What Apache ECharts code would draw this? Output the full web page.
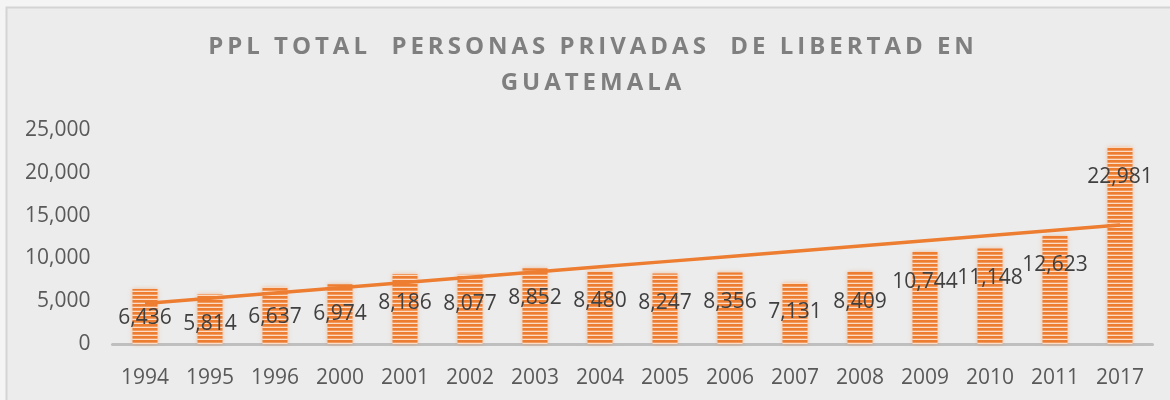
<!DOCTYPE html>
<html>
<head>
<meta charset="utf-8">
<script src="https://cdn.jsdelivr.net/npm/echarts@6/dist/echarts.min.js"></script>
<style>
	html, body { margin: 0; padding: 0; background: #f4f4f4; }
	#chart { width: 1170px; height: 400px; }
</style>
</head>
<body>
<div id="chart"></div>
<script>
var years = ["1994", "1995", "1996", "2000", "2001", "2002", "2003", "2004", "2005", "2006", "2007", "2008", "2009", "2010", "2011", "2017"];
var ppl = [6436, 5814, 6637, 6974, 8186, 8077, 8852, 8480, 8247, 8356, 7131, 8409, 10744, 11148, 12623, 22981];
var yTicks = [0, 5000, 10000, 15000, 20000, 25000];
var titleLines = ["PPL TOTAL  PERSONAS PRIVADAS  DE LIBERTAD EN", "GUATEMALA"];

// linear trend (least squares over category index), like Excel's trendline
function trend(v) {
	var n = v.length, sx = 0, sy = 0, sxx = 0, sxy = 0;
	for (var i = 0; i < n; i++) { sx += i; sy += v[i]; sxx += i * i; sxy += i * v[i]; }
	var b = (n * sxy - sx * sy) / (n * sxx - sx * sx),
		a = (sy - b * sx) / n;
	return v.map(function(_, i) { return a + b * i; });
}

// spaced-out title letters (thin spaces)
function spaced(s) {
	return s.split("").join("\u2009");
}

function fmt(v) {
	return v.toString().replace(/\B(?=(\d{3})+(?!\d))/g, ",");
}

// striped fill for the bars
var cv = document.createElement("canvas");
cv.width = 4; cv.height = 4;
var cx = cv.getContext("2d");
cx.fillStyle = "#ed7d31"; cx.fillRect(0, 0, 4, 2);
cx.fillStyle = "#f29a5e"; cx.fillRect(0, 2, 4, 1);
cx.fillStyle = "#fcdcc4"; cx.fillRect(0, 3, 4, 1);

var chart = echarts.init(document.getElementById("chart"));
chart.setOption({
	backgroundColor: "#f4f4f4",
	animation: false,
	graphic: [{
		type: "rect",
		z: -10,
		shape: { x: 6.5, y: 7.5, width: 1200, height: 500 },
		style: { fill: "#ececec", stroke: "#d4d4d4", lineWidth: 2 }
	}],
	title: {
		text: spaced(titleLines[0]) + "\n" + spaced(titleLines[1]),
		left: 586,
		top: 24,
		textAlign: "center",
		textStyle: {
			fontFamily: "Open Sans",
			fontWeight: "bold",
			fontSize: 24,
			color: "#7f7f7f",
			lineHeight: 36
		}
	},
	grid: { left: 112.5, right: 17.5, top: 130, bottom: 56 },
	xAxis: {
		type: "category",
		data: years,
		axisLine: { lineStyle: { color: "#bfbfbf", width: 3 } },
		axisTick: { show: false },
		axisLabel: { fontFamily: "Open Sans", fontSize: 21, color: "#595959", margin: 24 }
	},
	yAxis: {
		type: "value",
		min: yTicks[0],
		max: yTicks[yTicks.length - 1],
		interval: yTicks[1] - yTicks[0],
		splitLine: { show: false },
		axisLine: { show: false },
		axisTick: { show: false },
		axisLabel: {
			fontFamily: "Open Sans", fontSize: 21, color: "#595959", margin: 22,
			formatter: function(v) { return fmt(v); }
		}
	},
	series: [{
		type: "bar",
		data: ppl,
		barWidth: 25,
		itemStyle: {
			color: { image: cv, repeat: "repeat" },
			shadowBlur: 4,
			shadowColor: "rgba(237,125,49,0.45)"
		},
		label: {
			show: true,
			position: "insideTop",
			distance: 19,
			fontFamily: "Open Sans",
			fontSize: 21,
			color: "#404040",
			formatter: function(p) { return fmt(p.value); }
		}
	}, {
		type: "line",
		data: trend(ppl),
		symbol: "none",
		silent: true,
		z: 3,
		lineStyle: { color: "#ed7d31", width: 3.5 }
	}]
});
</script>
</body>
</html>
